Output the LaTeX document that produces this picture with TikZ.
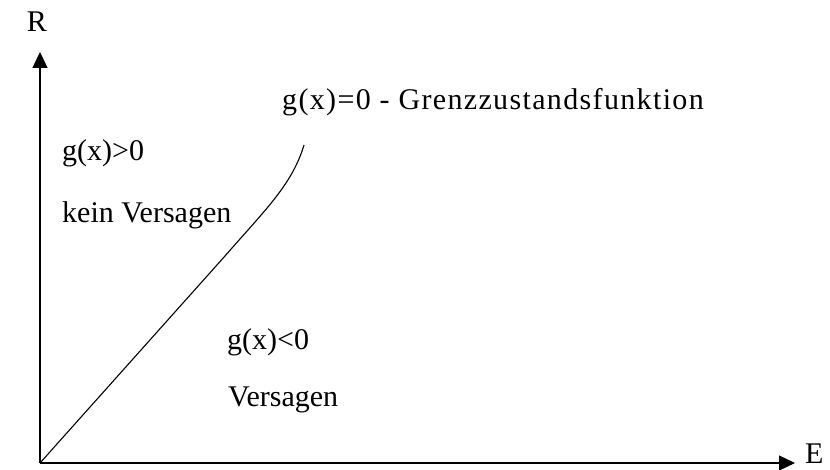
\documentclass[tikz,border=0pt]{standalone}
\usepackage{fontspec}
\setmainfont{Liberation Serif}
\usetikzlibrary{arrows.meta}

\begin{document}
\begin{tikzpicture}[
  x=1pt, y=-1pt,
  font=\fontsize{30}{36}\selectfont,
  axis/.style={-{Triangle[length=16pt, width=15pt]}, line width=1.2pt},
  lbl/.style={anchor=west, inner sep=0pt},
  limit/.style={line width=1.1pt},
]
  \useasboundingbox (0,0) rectangle (830,470);

  \coordinate (o) at (40,463);
  \coordinate (rtip) at (40,52);
  \coordinate (etip) at (795,463);
  \coordinate (gtop) at (304,145);

  \draw[axis] (o) -- (rtip);
  \draw[axis] (o) -- (etip);
  \node (rlab) at (37,22) {R};
  \node[lbl] (elab) at (805,454) {E};

  % Grenzzustand
  \draw[limit] (o) -- (225,256) .. controls (265,210) and (292,185) .. (gtop);

  \node[lbl] (gnull) at (282,102)
    {\addfontfeatures{LetterSpace=4.5}g(x)=0 - Grenzzustandsfunktion};
  \node[lbl] (gpos) at (62,153) {g(x)>0};
  \node[lbl] (safe) at (62,215) {kein Versagen};
  \node[lbl] (gneg) at (227,342) {g(x)<0};
  \node[lbl] (fail) at (228,400) {Versagen};
\end{tikzpicture}
\end{document}
